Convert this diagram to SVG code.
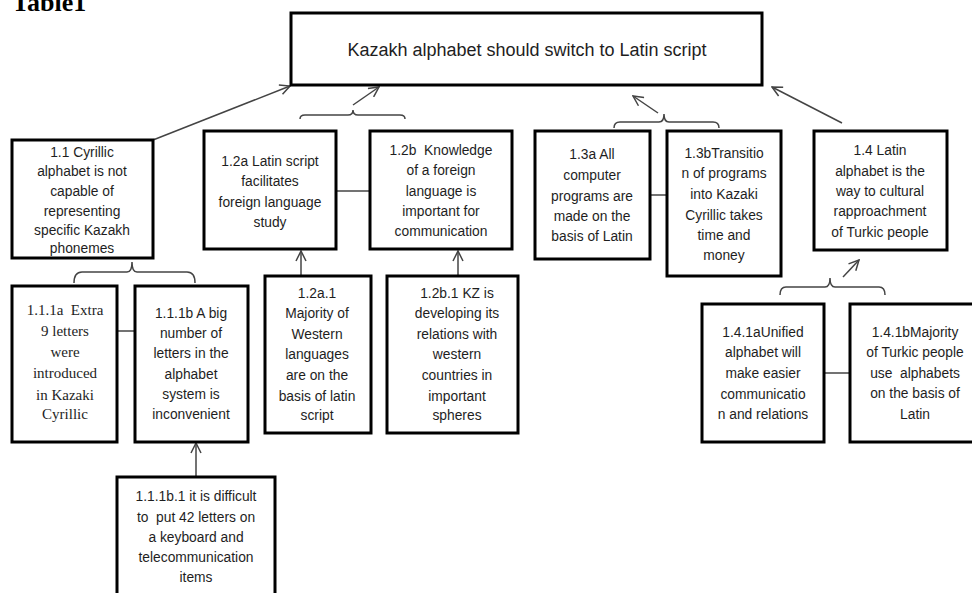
<svg xmlns="http://www.w3.org/2000/svg" width="972" height="593" viewBox="0 0 972 593">
<defs>
<marker id="arr" viewBox="0 0 12 12" refX="11" refY="6" markerWidth="12" markerHeight="12" markerUnits="userSpaceOnUse" orient="auto">
<path d="M1,1 L11,6 L1,11" fill="none" stroke="#444" stroke-width="1.5"/>
</marker>
<style>
.box{fill:#fff;stroke:#000;stroke-width:3}
.t{font-family:"Liberation Sans",Arial,sans-serif;font-size:13.8px;fill:#1e1e1e;text-anchor:middle;white-space:pre}
.s{font-family:"Liberation Serif","Times New Roman",serif;font-size:15px;fill:#1e1e1e;text-anchor:middle;white-space:pre}
.c{fill:none;stroke:#444;stroke-width:1.5}
.a{fill:none;stroke:#444;stroke-width:1.5;marker-end:url(#arr)}
</style>
</defs>
<rect width="972" height="593" fill="#fff"/>
<text x="12" y="11" font-family="Liberation Serif,serif" font-weight="bold" font-size="26" fill="#000">Table1</text>

<g id="connectors">
<line class="a" x1="153" y1="140" x2="290" y2="86"/>
<line class="a" x1="353" y1="105" x2="379" y2="87"/>
<line class="a" x1="658" y1="113" x2="633" y2="96"/>
<line class="a" x1="842" y1="123" x2="772" y2="87"/>
<line class="a" x1="843" y1="277" x2="859" y2="260"/>
<line class="a" x1="301" y1="276" x2="301" y2="251"/>
<line class="a" x1="458" y1="276" x2="458" y2="251"/>
<line class="a" x1="196" y1="477" x2="196" y2="443"/>
<line class="c" x1="336" y1="191" x2="370" y2="191"/>
<line class="c" x1="650" y1="195" x2="667" y2="195"/>
<line class="c" x1="117" y1="331" x2="135" y2="331"/>
<line class="c" x1="824" y1="373" x2="850" y2="373"/>
<path class="c" d="M300,119 Q300,115 305,115 L348,115 Q353,115 353,110 Q353,115 358,115 L400,115 Q405,115 405,119"/>
<path class="c" d="M614,128 Q614,122 620,122 L659,122 Q664,122 664,114 Q664,122 669,122 L713,122 Q719,122 719,128"/>
<path class="c" d="M74,283 Q74,272 82,272 L127,272 Q132,272 132,262 Q132,272 137,272 L187,272 Q195,272 195,283"/>
<path class="c" d="M780,295 Q780,287 786,287 L825,287 Q830,287 830,278 Q830,287 835,287 L879,287 Q885,287 885,295"/>
</g>

<g id="top">
<rect class="box" x="291" y="13" width="471" height="72"/>
<text class="t" x="527" y="56" style="font-size:18px">Kazakh alphabet should switch to Latin script</text>
</g>

<g id="n1_1">
<rect class="box" x="12" y="140" width="141" height="118"/>
<text class="t"><tspan x="82" y="157">1.1 Cyrillic</tspan><tspan x="82" y="176">alphabet is not</tspan><tspan x="82" y="196">capable of</tspan><tspan x="82" y="216">representing</tspan><tspan x="82" y="235">specific Kazakh</tspan><tspan x="82" y="253">phonemes</tspan></text>
</g>

<g id="n1_2a">
<rect class="box" x="204" y="131" width="132" height="118"/>
<text class="t"><tspan x="270" y="166">1.2a Latin script</tspan><tspan x="270" y="186">facilitates</tspan><tspan x="270" y="207">foreign language</tspan><tspan x="270" y="227">study</tspan></text>
</g>

<g id="n1_2b">
<rect class="box" x="370" y="131" width="142" height="118"/>
<text class="t"><tspan x="441" y="155">1.2b  Knowledge</tspan><tspan x="441" y="175">of a foreign</tspan><tspan x="441" y="196">language is</tspan><tspan x="441" y="216">important for</tspan><tspan x="441" y="236">communication</tspan></text>
</g>

<g id="n1_3a">
<rect class="box" x="535" y="131" width="115" height="128"/>
<text class="t"><tspan x="592" y="159">1.3a All</tspan><tspan x="592" y="180">computer</tspan><tspan x="592" y="201">programs are</tspan><tspan x="592" y="221">made on the</tspan><tspan x="592" y="241">basis of Latin</tspan></text>
</g>

<g id="n1_3b">
<rect class="box" x="667" y="131" width="114" height="145"/>
<text class="t"><tspan x="724" y="158">1.3bTransitio</tspan><tspan x="724" y="178">n of programs</tspan><tspan x="724" y="199">into Kazaki</tspan><tspan x="724" y="220">Cyrillic takes</tspan><tspan x="724" y="240">time and</tspan><tspan x="724" y="260">money</tspan></text>
</g>

<g id="n1_4">
<rect class="box" x="814" y="131" width="133" height="119"/>
<text class="t"><tspan x="880" y="155">1.4 Latin</tspan><tspan x="880" y="176">alphabet is the</tspan><tspan x="880" y="196">way to cultural</tspan><tspan x="880" y="216">rapproachment</tspan><tspan x="880" y="237">of Turkic people</tspan></text>
</g>

<g id="n1_1_1a">
<rect class="box" x="12" y="286" width="105" height="156"/>
<text class="s"><tspan x="65" y="315">1.1.1a  Extra</tspan><tspan x="65" y="336">9 letters</tspan><tspan x="65" y="357">were</tspan><tspan x="65" y="378">introduced</tspan><tspan x="65" y="400">in Kazaki</tspan><tspan x="65" y="419">Cyrillic</tspan></text>
</g>

<g id="n1_1_1b">
<rect class="box" x="135" y="286" width="113" height="156"/>
<text class="t"><tspan x="191" y="318">1.1.1b A big</tspan><tspan x="191" y="338">number of</tspan><tspan x="191" y="358">letters in the</tspan><tspan x="191" y="379">alphabet</tspan><tspan x="191" y="399">system is</tspan><tspan x="191" y="419">inconvenient</tspan></text>
</g>

<g id="n1_1_1b_1">
<rect class="box" x="117" y="477" width="158" height="130"/>
<text class="t"><tspan x="196" y="501">1.1.1b.1 it is difficult</tspan><tspan x="196" y="522">to  put 42 letters on</tspan><tspan x="196" y="542">a keyboard and</tspan><tspan x="196" y="562">telecommunication</tspan><tspan x="196" y="582">items</tspan></text>
</g>

<g id="n1_2a_1">
<rect class="box" x="265" y="276" width="106" height="157"/>
<text class="t"><tspan x="317" y="298">1.2a.1</tspan><tspan x="317" y="318">Majority of</tspan><tspan x="317" y="339">Western</tspan><tspan x="317" y="359">languages</tspan><tspan x="317" y="380">are on the</tspan><tspan x="317" y="401">basis of latin</tspan><tspan x="317" y="420">script</tspan></text>
</g>

<g id="n1_2b_1">
<rect class="box" x="387" y="276" width="131" height="157"/>
<text class="t"><tspan x="457" y="298">1.2b.1 KZ is</tspan><tspan x="457" y="318">developing its</tspan><tspan x="457" y="339">relations with</tspan><tspan x="457" y="359">western</tspan><tspan x="457" y="380">countries in</tspan><tspan x="457" y="401">important</tspan><tspan x="457" y="420">spheres</tspan></text>
</g>

<g id="n1_4_1a">
<rect class="box" x="702" y="304" width="122" height="138"/>
<text class="t"><tspan x="763" y="337">1.4.1aUnified</tspan><tspan x="763" y="357">alphabet will</tspan><tspan x="763" y="378">make easier</tspan><tspan x="763" y="399">communicatio</tspan><tspan x="763" y="419">n and relations</tspan></text>
</g>

<g id="n1_4_1b">
<rect class="box" x="850" y="304" width="130" height="138"/>
<text class="t"><tspan x="915" y="337">1.4.1bMajority</tspan><tspan x="915" y="357">of Turkic people</tspan><tspan x="915" y="378">use  alphabets</tspan><tspan x="915" y="398">on the basis of</tspan><tspan x="915" y="419">Latin</tspan></text>
</g>
</svg>
